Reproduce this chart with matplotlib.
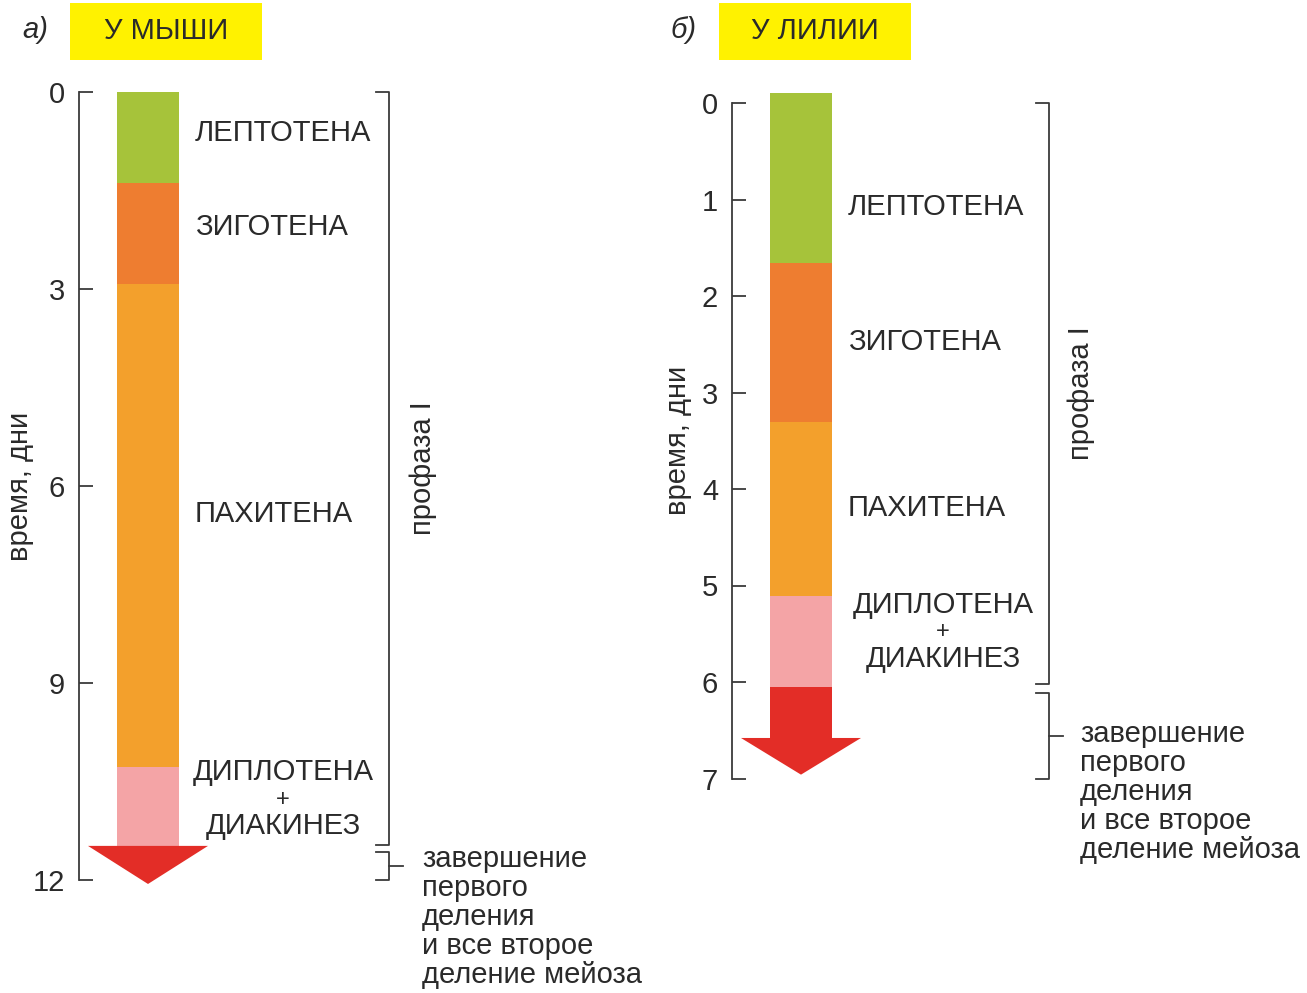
import matplotlib
matplotlib.use('Agg')
import matplotlib.pyplot as plt

# --- data -------------------------------------------------------------
stage_names = ['ЛЕПТОТЕНА', 'ЗИГОТЕНА', 'ПАХИТЕНА', 'ДИПЛОТЕНА\n+\nДИАКИНЕЗ']
stage_colors = ['#a6c33a', '#ee7d30', '#f3a02c', '#f4a4a6']
arrow_color = '#e32d27'

# mouse (days)
mouse_start = 0.0
mouse_ends = [1.39, 2.92, 10.28, 11.48]
mouse_stem_end = 11.48
mouse_tip = 12.06
mouse_ticks = [0, 3, 6, 9, 12]
mouse_prophase = (0.0, 11.47)
mouse_finish = (11.57, 12.0)

# lily (days)
lily_start = -0.1
lily_ends = [1.66, 3.31, 5.11, 6.05]
lily_stem_end = 6.58
lily_tip = 6.96
lily_ticks = [0, 1, 2, 3, 4, 5, 6, 7]
lily_prophase = (0.0, 6.02)
lily_finish = (6.11, 7.0)

finish_text = ['завершение', 'первого', 'деления', 'и все второе', 'деление мейоза']

# --- layout -----------------------------------------------------------
W, H = 1307, 993
FONT = ['Liberation Sans', 'DejaVu Sans']
TXT = '#2a2a2a'
LINE = '#3a3a3a'
FS = 21
plt.rcParams['font.family'] = FONT

fig = plt.figure(figsize=(W / 100, H / 100), dpi=100)


def make_axes(spine_x, y0, k, width):
    ax = fig.add_axes([spine_x / W, 0, width / W, 1])
    ax.set_xlim(0, width)
    ax.set_ylim((H - y0) / k, -y0 / k)
    for s in ['top', 'right', 'bottom']:
        ax.spines[s].set_visible(False)
    ax.patch.set_alpha(0)
    ax.set_xticks([])
    return ax


def draw_panel(ax, y0, k, start, ends, stem_end, tip, ticks, prophase, finish,
               label_y, diplo_x, br_x, title, letter, box_x, letter_x, ylab_x,
               txt_x, finish_y):
    ax.spines['left'].set_bounds(ticks[0], ticks[-1])
    ax.spines['left'].set_color(LINE)
    ax.spines['left'].set_linewidth(1.3)
    ax.set_yticks(ticks)
    ax.tick_params(axis='y', direction='in', length=10, width=1.3, pad=10,
                   labelsize=FS, color=LINE, labelcolor=TXT)

    # stage bars
    starts = [start] + ends[:-1]
    for s, e, c in zip(starts, ends, stage_colors):
        ax.bar(69, e - s, bottom=s, width=62, color=c, linewidth=0)

    # red arrow
    if stem_end > ends[-1]:
        ax.bar(69, stem_end - ends[-1], bottom=ends[-1], width=62,
               color=arrow_color, linewidth=0)
    ax.fill([69 - 60, 69 + 60, 69], [stem_end, stem_end, tip],
            color=arrow_color, linewidth=0)

    # stage labels
    for name, yy in zip(stage_names[:3], label_y[:3]):
        ax.text(116, yy, name, fontsize=FS, color=TXT, va='center', ha='left')
    for line, yy, fs in zip(stage_names[3].split('\n'), label_y[3:], [FS, 17, FS]):
        ax.text(diplo_x, yy, line, fontsize=fs, color=TXT, va='center', ha='center')

    # brackets
    ax.plot([br_x - 13, br_x, br_x, br_x - 13],
            [prophase[0], prophase[0], prophase[1], prophase[1]],
            color=LINE, lw=1.3)
    ax.plot([br_x - 13, br_x, br_x, br_x - 13],
            [finish[0], finish[0], finish[1], finish[1]], color=LINE, lw=1.3)
    mid = (finish[0] + finish[1]) / 2
    ax.plot([br_x, br_x + 14], [mid, mid], color=LINE, lw=1.3)
    ax.text(txt_x + 1, (prophase[0] + prophase[1]) / 2, 'профаза I', rotation=90,
            fontsize=FS, color=TXT, ha='center', va='center')
    for i, line in enumerate(finish_text):
        ax.text(txt_x, (finish_y + i * 29.0 - y0) / k, line, fontsize=21,
                color=TXT, ha='left', va='center')

    # axis label
    ax.text(ylab_x, (ticks[0] + ticks[-1]) / 2, 'время, дни', rotation=90,
            fontsize=FS, color=TXT, ha='center', va='center')

    # header
    ax.fill([box_x, box_x + 192, box_x + 192, box_x],
            [(3 - y0) / k, (3 - y0) / k, (60 - y0) / k, (60 - y0) / k],
            color='#fff200', linewidth=0, clip_on=False)
    ax.text(box_x + 96, (31 - y0) / k, title, fontsize=FS, color=TXT,
            ha='center', va='center', clip_on=False)
    ax.text(letter_x, (30 - y0) / k, letter, fontsize=FS, style='italic',
            color=TXT, ha='left', va='center', clip_on=False)


# panel a: mouse
y0a, ka = 92, 65.67
ax_a = make_axes(79, y0a, ka, 600)
draw_panel(ax_a, y0a, ka, mouse_start, mouse_ends, mouse_stem_end, mouse_tip,
           mouse_ticks, mouse_prophase, mouse_finish,
           label_y=[(133 - y0a) / ka, (227 - y0a) / ka, (514 - y0a) / ka,
                    (772 - y0a) / ka, (800 - y0a) / ka, (826 - y0a) / ka],
           diplo_x=204, br_x=310, title='У МЫШИ', letter='а)', box_x=-9,
           letter_x=-57, ylab_x=-59, txt_x=343, finish_y=859)

# panel b: lily
y0b, kb = 103, 96.5
ax_b = make_axes(732, y0b, kb, 575)
draw_panel(ax_b, y0b, kb, lily_start, lily_ends, lily_stem_end, lily_tip,
           lily_ticks, lily_prophase, lily_finish,
           label_y=[(207 - y0b) / kb, (342 - y0b) / kb, (508 - y0b) / kb,
                    (605 - y0b) / kb, (632 - y0b) / kb, (659 - y0b) / kb],
           diplo_x=211, br_x=317, title='У ЛИЛИИ', letter='б)', box_x=-13,
           letter_x=-62, ylab_x=-54, txt_x=348, finish_y=734)

fig.savefig('out.png', dpi=100)
